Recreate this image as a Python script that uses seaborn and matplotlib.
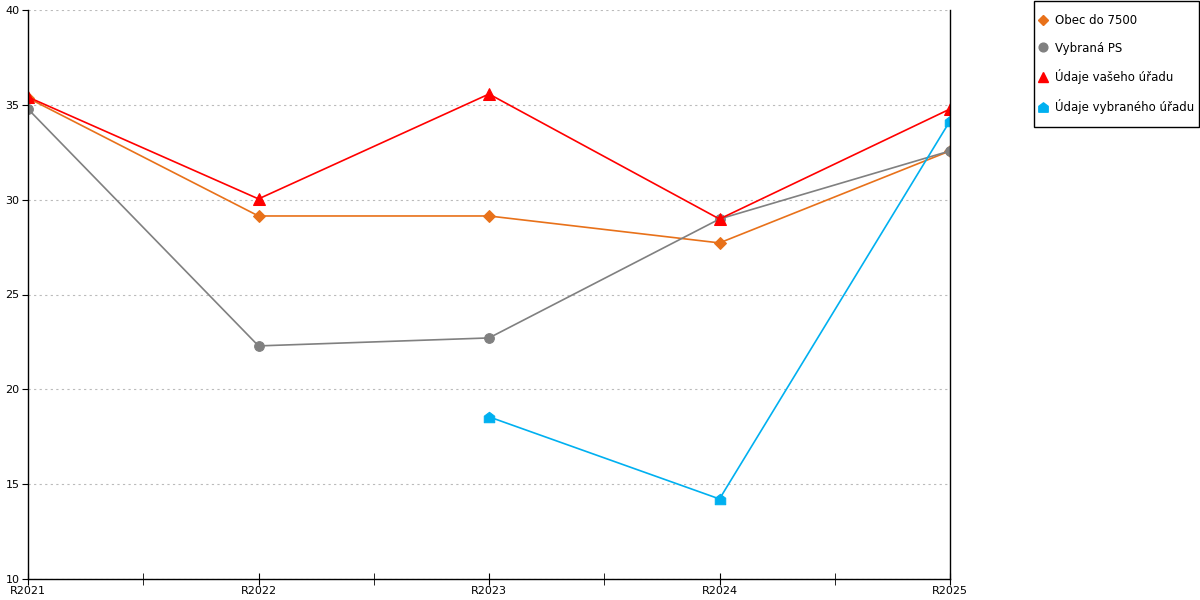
import numpy as np
import pandas as pd
import matplotlib
matplotlib.use("Agg")
import matplotlib.pyplot as plt
from matplotlib.lines import Line2D
from matplotlib.patches import Rectangle
from matplotlib.path import Path
import seaborn as sns

roky = ["R2021", "R2022", "R2023", "R2024", "R2025"]
obec = [35.36, 29.14, 29.14, 27.72, 32.57]
vybrana_ps = [34.78, 22.29, 22.71, 28.98, 32.57]
vas_urad = [35.41, 30.04, 35.57, 28.98, 34.78]
vybrany_urad = [np.nan, np.nan, 18.55, 14.22, 34.15]

nazvy = ["Obec do 7500", "Vybraná PS", "Údaje vašeho úřadu", "Údaje vybraného úřadu"]
barvy = ["#E8711A", "#808080", "#FF0000", "#00B0F0"]

# domecek jako znacka
domek = Path([(-1, -1), (1, -1), (1, 0.25), (0, 1), (-1, 0.25), (-1, -1)],
             [Path.MOVETO, Path.LINETO, Path.LINETO, Path.LINETO, Path.LINETO, Path.CLOSEPOLY])
znacky = ["D", "o", "^", domek]
velikosti = [6, 7, 8.5, 7.5]

dados = pd.DataFrame({"x": list(range(len(roky))) * 4,
                      "hodnota": obec + vybrana_ps + vas_urad + vybrany_urad,
                      "serie": sum([[n] * len(roky) for n in nazvy], [])}).dropna()

sns.set_style("white")
plt.rcParams["font.family"] = ["DejaVu Sans"]
plt.rcParams["text.color"] = "black"
plt.rcParams["xtick.color"] = "black"
plt.rcParams["ytick.color"] = "black"
fig = plt.figure(figsize=(12, 6), dpi=100)
ax = fig.add_axes([28 / 1200, 21 / 600, 922 / 1200, 569 / 600])

for n, c, m, s in zip(nazvy, barvy, znacky, velikosti):
    d = dados[dados["serie"] == n]
    sns.lineplot(data=d, x="x", y="hodnota", ax=ax, color=c, marker=m, markersize=s,
                 markeredgecolor=c, linewidth=1.2, legend=False)

ax.set_xlim(0, 4)
ax.set_ylim(10, 40)
ax.set_xticks(range(5))
ax.set_xticklabels(roky, fontsize=8)
ax.set_xticks([0.5, 1.5, 2.5, 3.5], minor=True)
ax.set_yticks(range(10, 41, 5))
ax.tick_params(axis="y", labelsize=8, length=4, direction="out", color="black", labelcolor="black", left=True, pad=2)
ax.tick_params(axis="x", which="both", length=8, direction="inout", color="black", labelcolor="black", bottom=True, pad=1)
ax.set_xlabel("")
ax.set_ylabel("")
ax.grid(axis="y", linestyle=(0, (2, 3)), color="#BBBBBB", linewidth=0.8)
ax.grid(axis="x", visible=False)
for k in ["left", "bottom", "right"]:
    ax.spines[k].set_visible(True)
    ax.spines[k].set_color("black")
    ax.spines[k].set_linewidth(1)
ax.spines["top"].set_visible(False)

# ramecek legendy
fig.add_artist(Rectangle((1034 / 1200, 1 - 127 / 600), 165 / 1200, 126 / 600,
                         transform=fig.transFigure, fill=False, edgecolor="black", linewidth=1))

handles = [Line2D([], [], linestyle="none", marker=m, markersize=s * 0.9, color=c, markeredgecolor=c)
           for c, m, s in zip(barvy, znacky, velikosti)]
leg = fig.legend(handles, nazvy, loc="upper left", bbox_to_anchor=(1034 / 1200, 1 - 8 / 600),
                 fontsize=8.5, frameon=False, labelspacing=1.24, borderpad=0.5,
                 handletextpad=0.75, handlelength=0.5, borderaxespad=0, labelcolor="black")

fig.savefig("out.png", dpi=100)
